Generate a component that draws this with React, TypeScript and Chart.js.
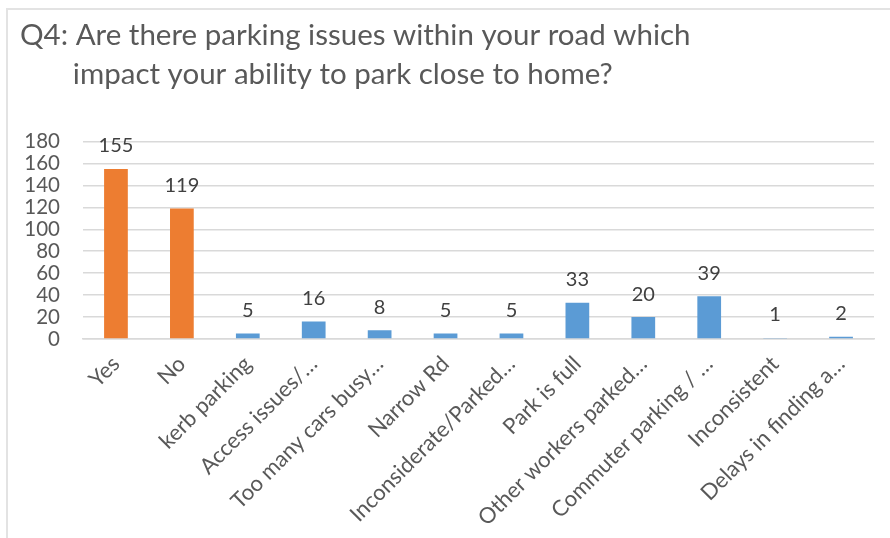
import React, { useEffect, useRef } from "react";
import { Chart, registerables } from "chart.js";

Chart.register(...registerables);

const categories = [
  "Yes",
  "No",
  "kerb parking",
  "Access issues/…",
  "Too many cars busy…",
  "Narrow Rd",
  "Inconsiderate/Parked…",
  "Park is full",
  "Other workers parked…",
  "Commuter parking / …",
  "Inconsistent",
  "Delays in finding a…",
];
const values = [155, 119, 5, 16, 8, 5, 5, 33, 20, 39, 1, 2];
const barColors = [
  "#ED7D31",
  "#ED7D31",
  "#5B9BD5",
  "#5B9BD5",
  "#5B9BD5",
  "#5B9BD5",
  "#5B9BD5",
  "#5B9BD5",
  "#5B9BD5",
  "#5B9BD5",
  "#5B9BD5",
  "#5B9BD5",
];
const titleLines = [
  "Q4: Are there parking issues within your road which",
  "       impact your ability to park close to home?",
];
const yMin = 0;
const yMax = 180;
const yStep = 20;

const FONT = "Lato, 'Open Sans', sans-serif";

const valueLabels = {
  id: "valueLabels",
  afterDatasetsDraw(chart: any) {
    const ctx = chart.ctx;
    const meta = chart.getDatasetMeta(0);
    ctx.save();
    ctx.font = `20px ${FONT}`;
    ctx.fillStyle = "#404040";
    ctx.textAlign = "center";
    ctx.textBaseline = "middle";
    meta.data.forEach((bar: any, i: number) => {
      ctx.fillText(String(values[i]), bar.x, bar.y - 23);
    });
    ctx.restore();
  },
};

export default function App() {
  const canvasRef = useRef<HTMLCanvasElement | null>(null);

  useEffect(() => {
    document.body.style.margin = "0";
    const canvas = canvasRef.current;
    if (!canvas) return;
    const chart = new Chart(canvas, {
      type: "bar",
      data: {
        labels: categories,
        datasets: [
          {
            data: values,
            backgroundColor: barColors,
            barPercentage: 0.6,
            categoryPercentage: 0.6,
          },
        ],
      },
      plugins: [valueLabels],
      options: {
        animation: false,
        responsive: true,
        maintainAspectRatio: false,
        layout: { padding: { left: 20, right: 16, top: 0, bottom: 0 } },
        plugins: {
          legend: { display: false },
          tooltip: { enabled: false },
          title: {
            display: true,
            text: titleLines,
            align: "start",
            color: "#595959",
            font: { family: FONT, size: 29.5, weight: "normal", lineHeight: 1.33 },
            padding: { top: 16, bottom: 47 },
          },
        },
        scales: {
          x: {
            grid: { display: false, drawTicks: false },
            border: { display: true, color: "#d9d9d9", width: 1.5 },
            ticks: {
              color: "#595959",
              font: { family: FONT, size: 22 },
              minRotation: 45,
              maxRotation: 45,
              autoSkip: false,
              padding: 12,
            },
            afterFit(scale: any) {
              scale.height = 199;
            },
          },
          y: {
            min: yMin,
            max: yMax,
            grid: { color: "#d9d9d9", lineWidth: 1.5, drawTicks: false },
            border: { display: false },
            ticks: {
              stepSize: yStep,
              autoSkip: false,
              color: "#595959",
              font: { family: FONT, size: 20.5 },
              padding: 23,
            },
            afterFit(scale: any) {
              scale.width = 63;
            },
          },
        },
      },
    });
    return () => chart.destroy();
  }, []);

  return (
    <div style={{ position: "relative", width: 890, height: 538, background: "#fff" }}>
      <div
        style={{
          position: "absolute",
          left: 6,
          top: 8,
          right: 0,
          bottom: 0,
          borderTop: "2px solid #e3e3e3",
          borderLeft: "2px solid #e3e3e3",
          boxSizing: "border-box",
        }}
      />
      <div style={{ position: "absolute", left: 0, top: 0, width: 890, height: 538 }}>
        <canvas ref={canvasRef} />
      </div>
    </div>
  );
}
